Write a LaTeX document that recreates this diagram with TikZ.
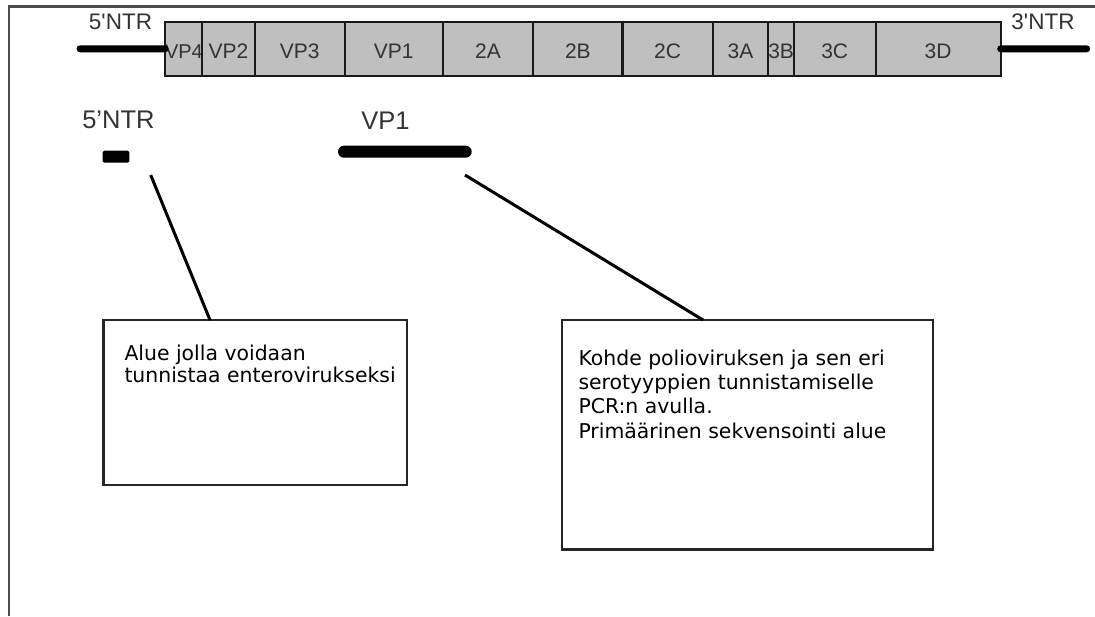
\documentclass[tikz,border=0pt]{standalone}
\usepackage{fontspec}
\setmainfont{DejaVu Sans}
\newfontfamily\arialf{Liberation Sans}
\newfontfamily\dejavu{DejaVu Sans}
\begin{document}
\begin{tikzpicture}[x=1pt,y=-1pt,
  seg/.style={draw=black!90, fill=gray!50, line width=2.2pt, anchor=north west,
    minimum height=54.3pt, inner sep=0pt, outer sep=0pt, text height=19pt, text depth=0pt,
    text=black!80, font=\arialf\fontsize{21}{21}\selectfont},
  toplab/.style={anchor=base, inner sep=0pt, text=black!80, font=\arialf\fontsize{22.5}{22.5}\selectfont},
  lowlab/.style={anchor=base, inner sep=0pt, text=black!80, font=\arialf\fontsize{25.5}{25.5}\selectfont},
  ntr/.style={line width=7pt, line cap=round},
  conn/.style={line width=3pt, black},
  infobox/.style={draw=black!85, line width=2.4pt, anchor=north west, inner sep=0pt, outer sep=0pt},
  infotext/.style={anchor=north west, inner sep=0pt, align=left, text=black}
]
\useasboundingbox (0,0) rectangle (1095,616);
% frame
\draw[black!70, line width=2.6pt] (9,616) -- (9,6.5) -- (1095,6.5);

% genome segments
\node[seg, minimum width=36.7pt, font=\arialf\fontsize{20}{20}\selectfont] (vp4) at (165,21.7) {VP4};
\node[seg, minimum width=53.3pt] (vp2) at (201.7,21.7) {VP2};
\node[seg, minimum width=89.6pt] (vp3) at (255,21.7) {VP3};
\node[seg, minimum width=98.3pt] (vp1) at (344.6,21.7) {VP1};
\node[seg, minimum width=90.3pt] (a2) at (442.9,21.7) {2A};
\node[seg, minimum width=89.3pt] (b2) at (533.2,21.7) {2B};
\node[seg, minimum width=90.2pt] (c2) at (622.5,21.7) {2C};
\node[seg, minimum width=55.6pt] (a3) at (712.7,21.7) {3A};
\node[seg, minimum width=25.5pt] (b3) at (768.3,21.7) {3B};
\node[seg, minimum width=81.8pt] (c3) at (793.8,21.7) {3C};
\node[seg, minimum width=125.1pt] (d3) at (875.6,21.7) {3D};

% untranslated regions
\coordinate (n5end) at (80,48.8);
\coordinate (n3end) at (1086.7,48.8);
\draw[ntr] (n5end) -- (vp4.west);
\draw[ntr] (d3.east) -- (n3end);
\node[toplab] (l5top) at (120.5,29.3) {5'NTR};
\node[toplab] (l3top) at (1043,29.5) {3'NTR};

% lower markers
\node[lowlab] (l5low) at (118.4,128.3) {5’NTR};
\node[lowlab] (lvp1) at (385.5,129) {VP1};
\node[fill=black, minimum width=26.6pt, minimum height=12pt, inner sep=0pt, rounded corners=1.5pt] (m5) at (116,156.7) {};
\node[fill=black, minimum width=133.7pt, minimum height=12pt, inner sep=0pt, rounded corners=6pt] (mvp1) at (404.85,151.7) {};

% info boxes
\node[infobox, minimum width=303.4pt, minimum height=165pt] (box1) at (103.3,320) {};
\node[infobox, minimum width=371pt, minimum height=229.3pt] (box2) at (561.7,320) {};

\node[infotext, font=\dejavu\fontsize{20.4}{22.7}\selectfont] (t1) at (124.3,344.4)
  {Alue jolla voidaan\\tunnistaa enterovirukseksi};
\node[infotext, font=\dejavu\fontsize{20.4}{24.4}\selectfont] (t2) at (578.3,349.4)
  {Kohde polioviruksen ja sen eri\\serotyyppien tunnistamiselle\\PCR:n avulla.\\Primäärinen sekvensointi alue};

% connectors
\coordinate (c1) at (150.7,175);
\coordinate (c2s) at (465,175);
\draw[conn] (c1) -- ([xshift=106.7pt]box1.north west);
\draw[conn] (c2s) -- ([xshift=141.3pt]box2.north west);
\end{tikzpicture}
\end{document}
